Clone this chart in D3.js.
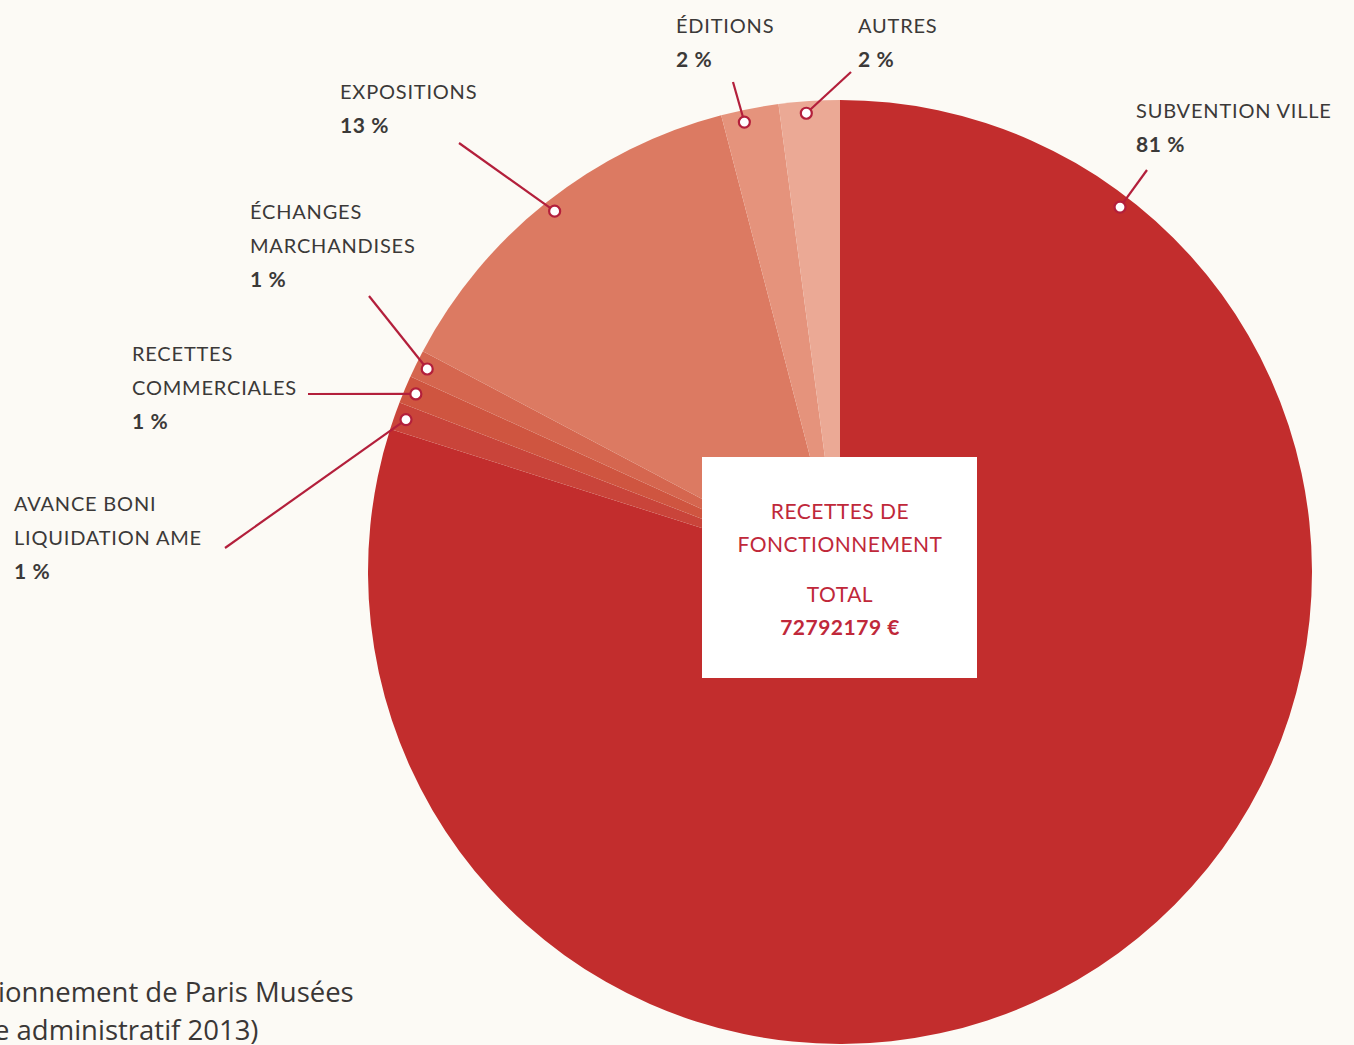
<!DOCTYPE html>
<html>
<head>
<meta charset="utf-8">
<script src="https://cdn.jsdelivr.net/npm/d3@7"></script>
<style>
  body { margin: 0; background: #fcfaf5; overflow: hidden; }
  svg { display: block; }
</style>
</head>
<body>
<svg id="chart" width="1354" height="1045"></svg>
<script>
// Slices, clockwise from 12 o'clock (share of total)
const categories = ["SUBVENTION VILLE", "AVANCE BONI LIQUIDATION AME", "RECETTES COMMERCIALES",
  "ÉCHANGES MARCHANDISES", "EXPOSITIONS", "ÉDITIONS", "AUTRES"];
const shares = [79.9, 0.95, 0.95, 0.95, 13.2, 1.97, 2.08];
const pctLabels = ["81 %", "1 %", "1 %", "1 %", "13 %", "2 %", "2 %"];
const labelLines = [["SUBVENTION VILLE"], ["AVANCE BONI", "LIQUIDATION AME"], ["RECETTES", "COMMERCIALES"],
  ["ÉCHANGES", "MARCHANDISES"], ["EXPOSITIONS"], ["ÉDITIONS"], ["AUTRES"]];
const colors = ["#c22d2d", "#c9443a", "#cf5540", "#d5664f", "#dc7a62", "#e5937c", "#eba995"];
const totalLabel = "72792179 €";

const width = 1354, height = 1045;
const cx = 840, cy = 572, radius = 472, dotRadius = 460;

// label layout: text position (first line baseline) and leader-line start
const layout = [
  { x: 1136, y: 118, lx: 1147, ly: 170, dotAngle: 37.5 },
  { x: 14, y: 511, lx: 225, ly: 548 },
  { x: 132, y: 361, lx: 308, ly: 394 },
  { x: 250, y: 219, lx: 369, ly: 296 },
  { x: 340, y: 99, lx: 459, ly: 143 },
  { x: 676, y: 33, lx: 733, ly: 82, dotAngle: 12 },
  { x: 858, y: 33, lx: 851, ly: 72, dotAngle: 4.2 }
];

const lineColor = "#b31f3b";
const svg = d3.select("#chart");

const pie = d3.pie().sort(null).value(d => d)(shares);
const arc = d3.arc().innerRadius(0).outerRadius(radius);

const g = svg.append("g").attr("transform", `translate(${cx},${cy})`);
g.selectAll("path.slice")
  .data(pie)
  .join("path")
  .attr("class", "slice")
  .attr("d", arc)
  .attr("fill", (d, i) => colors[i]);

// centre box
const box = g.append("g");
box.append("rect")
  .attr("x", 702 - cx).attr("y", 457 - cy)
  .attr("width", 275).attr("height", 221)
  .attr("fill", "#ffffff");
const centreText = [
  { t: "RECETTES DE", y: 519, w: 400 },
  { t: "FONCTIONNEMENT", y: 552, w: 400 },
  { t: "TOTAL", y: 602, w: 400 },
  { t: totalLabel, y: 635, w: 700 }
];
box.selectAll("text")
  .data(centreText)
  .join("text")
  .attr("x", 840 - cx)
  .attr("y", d => d.y - cy)
  .attr("text-anchor", "middle")
  .style("font-family", "Lato, 'Open Sans', sans-serif")
  .style("font-size", "21px")
  .style("font-weight", d => d.w)
  .style("letter-spacing", "0.5px")
  .style("fill", "#c0283a")
  .text(d => d.t);

// leader lines, dots and labels
pie.forEach((d, i) => {
  const L = layout[i];
  const ang = L.dotAngle !== undefined ? -L.dotAngle * Math.PI / 180 * (i === 0 ? -1 : 1) : (d.startAngle + d.endAngle) / 2;
  const dx = cx + dotRadius * Math.sin(ang);
  const dy = cy - dotRadius * Math.cos(ang);

  svg.append("line")
    .attr("x1", L.lx).attr("y1", L.ly)
    .attr("x2", dx).attr("y2", dy)
    .style("stroke", lineColor)
    .style("stroke-width", 2.2);

  svg.append("circle")
    .attr("cx", dx).attr("cy", dy)
    .attr("r", 5.5)
    .style("fill", "#ffffff")
    .style("stroke", lineColor)
    .style("stroke-width", 2.2);

  const text = svg.append("text")
    .attr("x", L.x).attr("y", L.y)
    .style("font-family", "Lato, 'Open Sans', sans-serif")
    .style("font-size", "20px")
    .style("letter-spacing", "0.8px")
    .style("fill", "#3b3938");
  labelLines[i].forEach((line, j) => {
    text.append("tspan").attr("x", L.x).attr("dy", j === 0 ? 0 : 33.5).text(line);
  });
  text.append("tspan")
    .attr("x", L.x).attr("dy", 34)
    .style("font-size", "21px")
    .style("font-weight", 700)
    .style("letter-spacing", "0.6px")
    .text(pctLabels[i]);
});

// caption, cut by the page edge as in the source
const caption = svg.append("text")
  .style("font-family", "'Open Sans', sans-serif")
  .style("font-size", "27.5px")
  .style("fill", "#3a3736");
caption.append("tspan").attr("x", -2).attr("y", 1002).text("ionnement de Paris Musées");
caption.append("tspan").attr("x", -6).attr("y", 1040).text("e administratif 2013)");
</script>
</body>
</html>
